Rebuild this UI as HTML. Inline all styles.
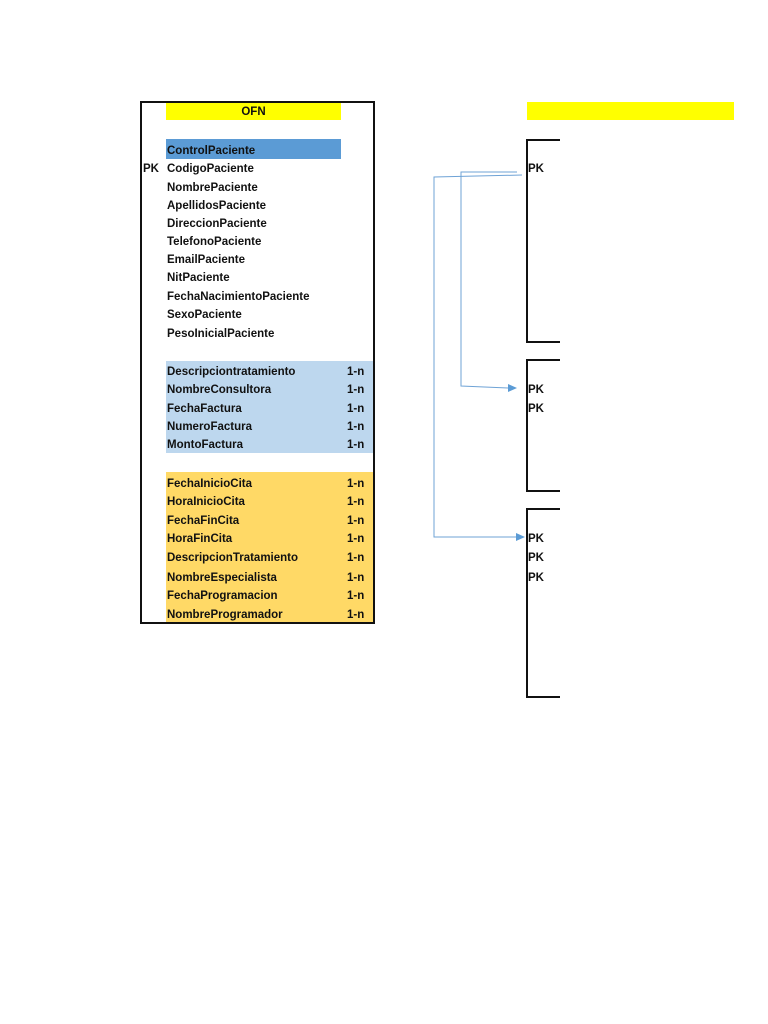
<!DOCTYPE html>
<html><head><meta charset="utf-8"><style>
body{margin:0;width:768px;height:1024px;background:#fff;position:relative;overflow:hidden;font-family:"Liberation Sans",sans-serif;font-weight:bold;font-size:11.5px;color:#111}
.a{position:absolute;white-space:nowrap;line-height:14px;margin-top:2px}
.bx{position:absolute;box-sizing:border-box}
</style></head><body>
<div class="bx" style="left:140px;top:101px;width:235px;height:523px;border:2px solid #111"></div>
<div class="bx" style="left:166px;top:103px;width:175px;height:17px;background:#ffff00"></div>
<div class="a" style="left:166px;top:103px;width:175px;text-align:center">OFN</div>
<div class="bx" style="left:166px;top:139px;width:175px;height:20px;background:#5b9bd5"></div>
<div class="bx" style="left:166px;top:361px;width:207px;height:92px;background:#bdd7ee"></div>
<div class="bx" style="left:166px;top:472px;width:207px;height:150px;background:#ffd966"></div>
<div class="a" style="left:167px;top:142px">ControlPaciente</div>
<div class="a" style="left:143px;top:160px">PK</div>
<div class="a" style="left:167px;top:160px">CodigoPaciente</div>
<div class="a" style="left:167px;top:179px">NombrePaciente</div>
<div class="a" style="left:167px;top:197px">ApellidosPaciente</div>
<div class="a" style="left:167px;top:215px">DireccionPaciente</div>
<div class="a" style="left:167px;top:233px">TelefonoPaciente</div>
<div class="a" style="left:167px;top:251px">EmailPaciente</div>
<div class="a" style="left:167px;top:269px">NitPaciente</div>
<div class="a" style="left:167px;top:288px">FechaNacimientoPaciente</div>
<div class="a" style="left:167px;top:306px">SexoPaciente</div>
<div class="a" style="left:167px;top:325px">PesoInicialPaciente</div>

<div class="a" style="left:167px;top:363px">Descripciontratamiento</div><div class="a" style="left:347px;top:363px">1-n</div>
<div class="a" style="left:167px;top:381px">NombreConsultora</div><div class="a" style="left:347px;top:381px">1-n</div>
<div class="a" style="left:167px;top:400px">FechaFactura</div><div class="a" style="left:347px;top:400px">1-n</div>
<div class="a" style="left:167px;top:418px">NumeroFactura</div><div class="a" style="left:347px;top:418px">1-n</div>
<div class="a" style="left:167px;top:436px">MontoFactura</div><div class="a" style="left:347px;top:436px">1-n</div>

<div class="a" style="left:167px;top:475px">FechaInicioCita</div><div class="a" style="left:347px;top:475px">1-n</div>
<div class="a" style="left:167px;top:493px">HoraInicioCita</div><div class="a" style="left:347px;top:493px">1-n</div>
<div class="a" style="left:167px;top:512px">FechaFinCita</div><div class="a" style="left:347px;top:512px">1-n</div>
<div class="a" style="left:167px;top:530px">HoraFinCita</div><div class="a" style="left:347px;top:530px">1-n</div>
<div class="a" style="left:167px;top:549px">DescripcionTratamiento</div><div class="a" style="left:347px;top:549px">1-n</div>
<div class="a" style="left:167px;top:569px">NombreEspecialista</div><div class="a" style="left:347px;top:569px">1-n</div>
<div class="a" style="left:167px;top:587px">FechaProgramacion</div><div class="a" style="left:347px;top:587px">1-n</div>
<div class="a" style="left:167px;top:606px">NombreProgramador</div><div class="a" style="left:347px;top:606px">1-n</div>

<div class="bx" style="left:527px;top:102px;width:207px;height:18px;background:#ffff00"></div>
<div class="bx" style="left:526px;top:139px;width:34px;height:204px;border:2px solid #111;border-right:none"></div>
<div class="bx" style="left:526px;top:359px;width:34px;height:133px;border:2px solid #111;border-right:none"></div>
<div class="bx" style="left:526px;top:508px;width:34px;height:190px;border:2px solid #111;border-right:none"></div>
<div class="a" style="left:528px;top:160px">PK</div>
<div class="a" style="left:528px;top:381px">PK</div>
<div class="a" style="left:528px;top:400px">PK</div>
<div class="a" style="left:528px;top:530px">PK</div>
<div class="a" style="left:528px;top:549px">PK</div>
<div class="a" style="left:528px;top:569px">PK</div>

<svg style="position:absolute;left:0;top:0" width="768" height="1024">
<g stroke="#6fa3d6" stroke-width="1" fill="none">
<polyline points="522,175 434,177 434,537 516,537"/>
<polyline points="517,172 461,172 461,386 508,388"/>
</g>
<polygon points="516,533 525,537 516,541" fill="#5b9bd5"/>
<polygon points="508,384 517,388 508,392" fill="#5b9bd5"/>
</svg>
</body></html>
